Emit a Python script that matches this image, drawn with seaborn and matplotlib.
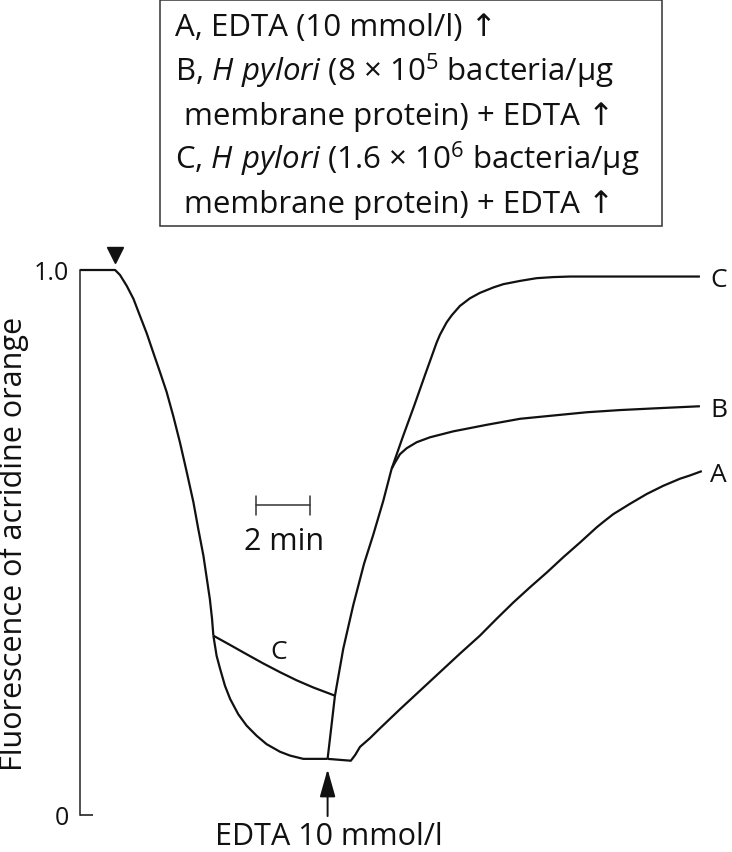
import numpy as np
import pandas as pd
import matplotlib
matplotlib.use("Agg")
import matplotlib.pyplot as plt
import seaborn as sns
from matplotlib.transforms import Affine2D
from matplotlib.patches import Rectangle

# ---------------- data (time in min, relative fluorescence) ----------------
descent_t = [0.0, 1.30, 1.48, 1.73, 1.98, 2.22, 2.47, 2.71, 2.96, 3.21, 3.46,
             3.70, 3.95, 4.20, 4.38, 4.57, 4.69, 4.81, 4.89, 4.94]
descent_f = [1.0, 1.0, 0.991, 0.971, 0.947, 0.916, 0.884, 0.849, 0.813, 0.776, 0.731,
             0.684, 0.630, 0.574, 0.525, 0.476, 0.436, 0.396, 0.360, 0.329]

base_t = [4.94, 5.06, 5.19, 5.37, 5.56, 5.86, 6.17, 6.54, 6.91, 7.41, 7.78, 8.27, 9.17]
base_f = [0.329, 0.292, 0.268, 0.237, 0.213, 0.185, 0.164, 0.1455, 0.130, 0.116, 0.109, 0.103, 0.103]

c_low_t = [4.94, 5.56, 6.17, 6.79, 7.41, 8.03, 8.64, 9.44]
c_low_f = [0.329, 0.312, 0.295, 0.278, 0.262, 0.247, 0.234, 0.219]

rise_t = [9.17, 9.30, 9.44, 9.75, 10.12, 10.52, 10.86, 11.23, 11.54]
rise_f = [0.103, 0.158, 0.218, 0.305, 0.385, 0.461, 0.514, 0.576, 0.635]

c_top_t = [11.54, 11.95, 12.37, 12.79, 13.21, 13.33, 13.46, 13.58, 13.77, 14.07, 14.44,
           14.81, 15.31, 15.68, 16.30, 16.91, 17.53, 18.15, 22.96]
c_top_f = [0.635, 0.693, 0.750, 0.809, 0.867, 0.881, 0.893, 0.904, 0.917, 0.934, 0.948,
           0.958, 0.968, 0.974, 0.980, 0.985, 0.987, 0.988, 0.988]

b_top_t = [11.54, 11.67, 11.85, 12.10, 12.47, 12.96, 13.83, 15.07, 16.30, 17.53, 18.77,
           20.00, 21.23, 22.96]
b_top_f = [0.635, 0.647, 0.662, 0.673, 0.684, 0.693, 0.704, 0.716, 0.727, 0.733, 0.739,
           0.743, 0.746, 0.750]

a_t = [9.17, 10.03, 10.19, 10.37, 10.74, 11.11, 11.85, 12.59, 13.33, 14.07, 14.81, 15.43,
       16.05, 16.67, 17.29, 17.90, 18.52, 18.83, 19.14, 19.44, 19.75, 20.37, 20.99,
       21.60, 22.22, 22.59, 23.03]
a_f = [0.103, 0.0996, 0.110, 0.125, 0.141, 0.159, 0.194, 0.228, 0.262, 0.296, 0.329, 0.360,
       0.390, 0.418, 0.445, 0.473, 0.500, 0.514, 0.528, 0.540, 0.552, 0.571, 0.589,
       0.604, 0.617, 0.623, 0.631]

scale_bar_min = 2
y_ticks = [0, 1.0]
y_tick_labels = ["0", "1.0"]
curve_labels = ["C", "B", "A"]

legend_lines = [
    "A, EDTA (10 mmol/l) \u2191",
    "B, $\\mathit{H\\ pylori}$ (8 \u00d7 $10^5$ bacteria/\u03bcg",
    "membrane protein) + EDTA \u2191",
    "C, $\\mathit{H\\ pylori}$ (1.6 \u00d7 $10^6$ bacteria/\u03bcg",
    "membrane protein) + EDTA \u2191",
]

# ---------------- style ----------------
sns.set_theme(style="white")
FONT = "Open Sans"
plt.rcParams["font.family"] = [FONT, "DejaVu Sans"]
plt.rcParams["mathtext.fontset"] = "custom"
plt.rcParams["mathtext.rm"] = FONT
plt.rcParams["mathtext.it"] = FONT + ":italic"
plt.rcParams["mathtext.bf"] = FONT + ":bold"

W, H = 732, 853
fig = plt.figure(figsize=(W / 100, H / 100), dpi=100)
fig.patch.set_facecolor("white")
pix = Affine2D().scale(1 / W, -1 / H).translate(0, 1) + fig.transFigure

# axes geometry (pixel calibration: y=0 -> 816 px, y=1 -> 271 px, 27 px / min)
PX_PER_UNIT = 545.0
PX_PER_MIN = 27.0
X0, Y0 = 80.0, 816.0
ymin, ymax = -0.06, 1.06
xmax = (W - X0) / PX_PER_MIN
top_px = Y0 - ymax * PX_PER_UNIT
bot_px = Y0 - ymin * PX_PER_UNIT
ax = fig.add_axes([X0 / W, (H - bot_px) / H, (W - X0) / W, (bot_px - top_px) / H])
ax.set_facecolor("white")

segments = {
    "descent": (descent_t, descent_f),
    "base": (base_t, base_f),
    "c_low": (c_low_t, c_low_f),
    "rise": (rise_t, rise_f),
    "c_top": (c_top_t, c_top_f),
    "b_top": (b_top_t, b_top_f),
    "a": (a_t, a_f),
}
df = pd.concat(
    [pd.DataFrame({"t": t, "f": f, "seg": name}) for name, (t, f) in segments.items()],
    ignore_index=True,
)
sns.lineplot(data=df, x="t", y="f", units="seg", estimator=None, sort=False,
             color="#111111", linewidth=1.6, ax=ax, legend=False,
             solid_joinstyle="round", solid_capstyle="butt")

ax.set_xlim(0, xmax)
ax.set_ylim(ymin, ymax)
ax.set_xlabel("")
ax.set_ylabel("")
ax.set_xticks([])
ax.set_yticks(y_ticks)
ax.set_yticklabels(y_tick_labels)
sns.despine(ax=ax, top=True, right=True, bottom=True)
ax.spines["left"].set_bounds(0, 1)
ax.spines["left"].set_linewidth(1.1)
ax.spines["left"].set_color("#222222")
ax.tick_params(axis="y", direction="in", length=9.4, width=1.1, pad=8,
               labelsize=18, colors="#111111", left=True)

# addition marker (inverted triangle) above the end of the baseline plateau
ax.plot([descent_t[1]], [descent_f[1] + 0.028], marker="v", ms=11,
        color="#111111", clip_on=False)

# EDTA arrow at the point of addition
edta_t = base_t[-1]
ax.annotate("", xy=(edta_t, base_f[-1] - 0.019), xytext=(edta_t, -0.002),
            arrowprops=dict(arrowstyle="-|>,head_length=0.85,head_width=0.24",
                            mutation_scale=20, color="#111111", lw=1.4,
                            shrinkA=0, shrinkB=0),
            annotation_clip=False)
fig.text(329, 845, "EDTA 10 mmol/l", ha="center", va="baseline",
         fontsize=22, color="#111111", transform=pix)

# scale bar
sb_start = 6.52
sb_y = 0.569
ax.plot([sb_start, sb_start + scale_bar_min], [sb_y, sb_y], color="#333333", lw=1.1)
for xx in (sb_start, sb_start + scale_bar_min):
    ax.plot([xx, xx], [sb_y - 0.018, sb_y + 0.017], color="#333333", lw=1.1)
fig.text(284, 550, f"{scale_bar_min} min", ha="center", va="baseline",
         fontsize=22, color="#111111", transform=pix)

# curve labels
ax.text(7.37, 0.306, "C", ha="center", va="center_baseline", fontsize=19, color="#111111")
ends = [c_top_f[-1], b_top_f[-1], a_f[-1]]
for lab, yv in zip(curve_labels, ends):
    ax.text(23.33, yv, lab, ha="left", va="center_baseline", fontsize=19, color="#111111")

# y label
fig.text(14, 544, "Fluorescence of acridine orange", rotation=90, ha="center",
         va="center", fontsize=22, color="#111111", transform=pix)

# legend box
fig.add_artist(Rectangle((160, 1), 502, 226, transform=pix, fill=False,
                         edgecolor="#333333", linewidth=1.1))
xs = [175, 175, 184, 175, 184]
baselines = [36, 81, 125, 169, 213]
for txt, xx, yy in zip(legend_lines, xs, baselines):
    fig.text(xx, yy, txt, ha="left", va="baseline", fontsize=22.5,
             color="#111111", transform=pix)

fig.savefig("out.png", dpi=100, facecolor="white")
